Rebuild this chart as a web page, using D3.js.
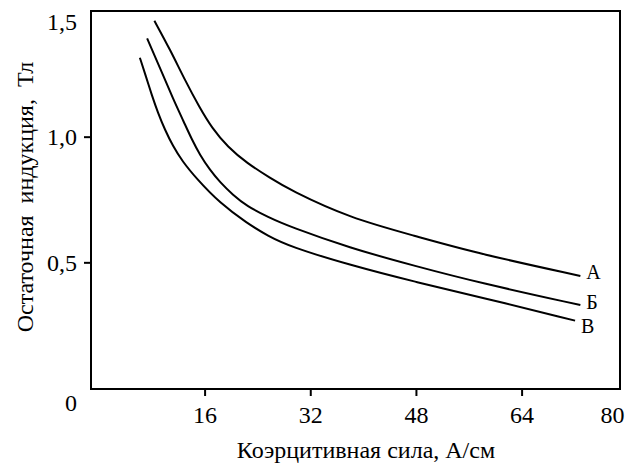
<!DOCTYPE html>
<html>
<head>
<meta charset="utf-8">
<script src="https://cdn.jsdelivr.net/npm/d3@7"></script>
<style>
  body { margin: 0; background: #fff; }
  svg { display: block; }
  svg text { font-family: "Liberation Serif", "Times New Roman", serif; fill: #000; }
</style>
</head>
<body>
<svg id="chart" width="627" height="464"></svg>
<script>
// Коэрцитивная сила (А/см) и остаточная индукция (Тл) для трёх кривых
const seriesNames = ["А", "Б", "В"];
const xA = [8.4, 10.8, 13.0, 15.2, 17.1, 19.5, 22.4, 25.9, 28.9, 38.0, 47.9, 57.7, 72.9];
const yA = [1.461, 1.345, 1.226, 1.118, 1.035, 0.959, 0.895, 0.836, 0.788, 0.676, 0.605, 0.533, 0.446];
const xB = [7.3, 9.25, 11.3, 12.8, 14.1, 15.3, 16.8, 18.3, 20.3, 22.4, 25.6, 28.9, 38.0, 47.9, 57.7, 72.9];
const yB = [1.391, 1.273, 1.146, 1.062, 0.987, 0.927, 0.868, 0.82, 0.768, 0.724, 0.68, 0.642, 0.557, 0.485, 0.418, 0.33];
const xC = [6.2, 7.1, 8.0, 8.95, 10.0, 11.2, 12.6, 14.8, 18.3, 22.4, 25.6, 28.9, 38.0, 47.9, 57.7, 72.1];
const yC = [1.314, 1.241, 1.166, 1.094, 1.027, 0.963, 0.903, 0.832, 0.736, 0.656, 0.605, 0.563, 0.489, 0.422, 0.362, 0.268];

const xTicks = [16, 32, 48, 64, 80];
const yTicks = [0, 0.5, 1.0, 1.5];
const xTitle = "Коэрцитивная сила, А/см";
const yTitle = "Остаточная  индукция,  Тл";

const fmt = d => d === 0 ? "0" : d3.format(".1f")(d).replace(".", ",");

// ── размеры ───────────────────────────────────────────────
const L = 91, R = 620, T = 11, B = 389;

const svg = d3.select("#chart");

const x = d3.scaleLinear().domain([-1.2, 78.9]).range([L, R]).clamp(true);
const y = d3.scaleLinear().domain([0, 1.5]).range([B - 1, T]);

// рамка
svg.append("rect")
  .attr("x", L).attr("y", T)
  .attr("width", R - L).attr("height", B - T)
  .attr("fill", "none").attr("stroke", "#000").attr("stroke-width", 2);

// ось X
const gx = svg.append("g")
  .attr("transform", `translate(0,${B})`)
  .call(d3.axisBottom(x).tickValues(xTicks).tickSize(7).tickPadding(10).tickFormat(d3.format("d")));
gx.attr("font-family", null);
gx.select(".domain").remove();
gx.selectAll(".tick line").attr("stroke-width", 2).attr("stroke", (d) => (d === 80 ? "none" : "#000"));
gx.selectAll(".tick text")
  .attr("font-size", 24)
  .attr("dx", (d) => (d === 80 ? -8 : 0));

// ось Y
const gy = svg.append("g")
  .attr("transform", `translate(${L},0)`)
  .call(d3.axisLeft(y).tickValues(yTicks).tickSize(7).tickPadding(7).tickFormat(fmt));
gy.attr("font-family", null);
gy.select(".domain").remove();
gy.selectAll(".tick line").attr("stroke-width", 2)
  .attr("stroke", (d) => (d === 0 || d === 1.5 ? "none" : "#000"));
gy.selectAll(".tick text")
  .attr("font-size", 24)
  .attr("dy", (d) => (d === 0 ? "0.95em" : d === 1.5 ? "0.75em" : "0.32em"));

// подписи осей
svg.append("text")
  .attr("x", 366).attr("y", 458)
  .attr("text-anchor", "middle").attr("font-size", 24)
  .text(xTitle);

svg.append("text")
  .attr("transform", `translate(33,197) rotate(-90)`)
  .attr("text-anchor", "middle").attr("font-size", 24)
  .style("white-space", "pre")
  .text(yTitle);

// кривые
const series = [
  { name: seriesNames[0], xs: xA, ys: yA, dy: 3 },
  { name: seriesNames[1], xs: xB, ys: yB, dy: 4 },
  { name: seriesNames[2], xs: xC, ys: yC, dy: 12 },
];

const line = d3.line()
  .x((d) => x(d[0]))
  .y((d) => y(d[1]))
  .curve(d3.curveBasis);

series.forEach((s) => {
  const pts = s.xs.map((v, i) => [v, s.ys[i]]);
  svg.append("path")
    .attr("d", line(pts))
    .attr("fill", "none").attr("stroke", "#000").attr("stroke-width", 2);

  const last = pts[pts.length - 1];
  svg.append("text")
    .attr("x", x(last[0]) + 6).attr("y", y(last[1]) + s.dy)
    .attr("font-size", 20)
    .text(s.name);
});
</script>
</body>
</html>
